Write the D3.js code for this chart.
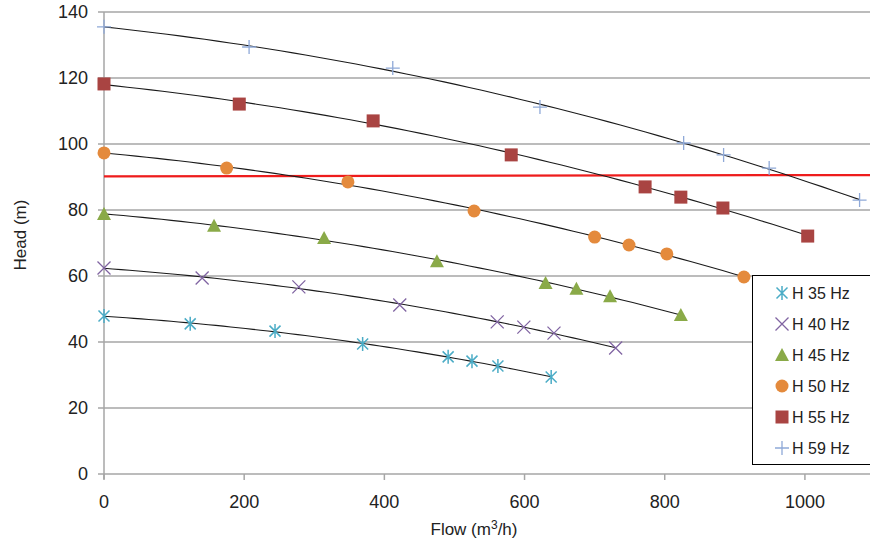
<!DOCTYPE html>
<html>
<head>
<meta charset="utf-8">
<script src="https://cdn.jsdelivr.net/npm/d3@7"></script>
<style>
body{margin:0;background:#fff;}
svg{display:block;font-family:"Liberation Sans",Arial,sans-serif;}
</style>
</head>
<body>
<svg id="chart" width="870" height="547"></svg>
<script>
// series labels
var seriesNames = ['H 35 Hz','H 40 Hz','H 45 Hz','H 50 Hz','H 55 Hz','H 59 Hz'];
// flow values (m3/h) per series
var flow35 = [0,123,244,369,491,525,562,638];
var head35 = [47.9,45.5,43.3,39.4,35.5,34.2,32.7,29.4];
var flow40 = [0,140,278,422,561,599,642,730];
var head40 = [62.4,59.4,56.7,51.2,46.1,44.5,42.7,38.2];
var flow45 = [0,157,314,475,630,674,722,823];
var head45 = [78.8,75.2,71.5,64.5,57.9,56.1,53.9,48.2];
var flow50 = [0,175,348,528,700,749,803,913];
var head50 = [97.3,92.7,88.5,79.7,71.8,69.4,66.7,59.7];
var flow55 = [0,193,384,581,772,823,883,1004];
var head55 = [118.2,112.1,107,96.7,87,83.9,80.6,72.1];
var flow59 = [0,207,412,622,827,884,949,1078];
var head59 = [135.5,129.4,123,111.2,100.3,96.7,92.7,83];
// red reference line
var refFlow = [0,1100];
var refHead = [90.2,90.6];
var xTicks = [0,200,400,600,800,1000];
var yTicks = [0,20,40,60,80,100,120,140];

var seriesFlows = [flow35,flow40,flow45,flow50,flow55,flow59];
var seriesHeads = [head35,head40,head45,head50,head55,head59];
var colors = ['#4bacc6','#8064a2','#8aaa48','#e48a3c','#a94442','#8fa9d8'];
var shapes = ['asterisk','x','triangle','circle','square','plus'];

var svg = d3.select('#chart');
var x = d3.scaleLinear().domain([0,1100]).range([104,875]);
var y = d3.scaleLinear().domain([0,140]).range([474,12]);

// gridlines
svg.append('g').selectAll('line').data(yTicks).enter().append('line')
  .attr('x1',98).attr('x2',870)
  .attr('y1',function(d){return y(d);}).attr('y2',function(d){return y(d);})
  .attr('stroke','#a6a6a6').attr('stroke-width',1.5);
// y axis line
svg.append('line').attr('x1',x(0)).attr('x2',x(0)).attr('y1',y(140)).attr('y2',y(0)+5)
  .attr('stroke','#a6a6a6').attr('stroke-width',1.5);
// x ticks
svg.append('g').selectAll('line').data(xTicks).enter().append('line')
  .attr('x1',function(d){return x(d);}).attr('x2',function(d){return x(d);})
  .attr('y1',y(0)).attr('y2',y(0)+6)
  .attr('stroke','#a6a6a6').attr('stroke-width',1.5);

// tick labels
svg.append('g').selectAll('text').data(yTicks).enter().append('text')
  .attr('x',88).attr('y',function(d){return y(d)+6;})
  .attr('text-anchor','end').attr('font-size',18).attr('fill','#222')
  .text(function(d){return d;});
svg.append('g').selectAll('text').data(xTicks).enter().append('text')
  .attr('x',function(d){return x(d);}).attr('y',508)
  .attr('text-anchor','middle').attr('font-size',18).attr('fill','#222')
  .text(function(d){return d;});

// axis titles
svg.append('text').attr('transform','translate(26,235) rotate(-90)')
  .attr('text-anchor','middle').attr('font-size',17).attr('fill','#222').text('Head (m)');
var xt = svg.append('text').attr('x',474).attr('y',535)
  .attr('text-anchor','middle').attr('font-size',17).attr('fill','#222');
xt.append('tspan').text('Flow (m');
xt.append('tspan').attr('font-size',12).attr('dy',-6).text('3');
xt.append('tspan').attr('dy',6).text('/h)');

// red line
svg.append('line')
  .attr('x1',x(refFlow[0])).attr('y1',y(refHead[0]))
  .attr('x2',x(refFlow[1])).attr('y2',y(refHead[1]))
  .attr('stroke','#ee1c1c').attr('stroke-width',2.2);

// quadratic least squares fit
function polyFit(xs,ys){
  var n=xs.length,s=[0,0,0,0,0],t=[0,0,0];
  for(var i=0;i<n;i++){
    var p=1;
    for(var k=0;k<5;k++){s[k]+=p; if(k<3)t[k]+=p*ys[i]; p*=xs[i];}
  }
  var A=[[s[0],s[1],s[2],t[0]],[s[1],s[2],s[3],t[1]],[s[2],s[3],s[4],t[2]]];
  for(var c=0;c<3;c++){
    for(var r=c+1;r<3;r++){
      var f=A[r][c]/A[c][c];
      for(var j=c;j<4;j++)A[r][j]-=f*A[c][j];
    }
  }
  var b=[0,0,0];
  for(var r2=2;r2>=0;r2--){
    var v=A[r2][3];
    for(var j2=r2+1;j2<3;j2++)v-=A[r2][j2]*b[j2];
    b[r2]=v/A[r2][r2];
  }
  return function(xv){return b[0]+b[1]*xv+b[2]*xv*xv;};
}

var line = d3.line().x(function(d){return x(d[0]);}).y(function(d){return y(d[1]);});
seriesFlows.forEach(function(fl,i){
  var f = polyFit(fl,seriesHeads[i]);
  var xmax = d3.max(fl);
  var pts = d3.range(0,xmax+0.01,xmax/60).map(function(v){return [v,f(v)];});
  svg.append('path').attr('d',line(pts)).attr('fill','none')
    .attr('stroke','#1a1a1a').attr('stroke-width',1.1);
});

function drawMarker(g,shape,color,cx,cy){
  var r=7;
  if(shape==='circle'){
    g.append('circle').attr('cx',cx).attr('cy',cy).attr('r',6.5).attr('fill',color);
  } else if(shape==='square'){
    g.append('rect').attr('x',cx-6.5).attr('y',cy-6.5).attr('width',13).attr('height',13).attr('fill',color);
  } else if(shape==='triangle'){
    g.append('path').attr('d','M'+cx+','+(cy-7)+'L'+(cx+7)+','+(cy+6)+'L'+(cx-7)+','+(cy+6)+'Z').attr('fill',color);
  } else if(shape==='plus'){
    g.append('path').attr('d','M'+(cx-r)+','+cy+'H'+(cx+r)+'M'+cx+','+(cy-r)+'V'+(cy+r))
      .attr('stroke',color).attr('stroke-width',1.3).attr('fill','none');
  } else if(shape==='x'){
    var a=6.5;
    g.append('path').attr('d','M'+(cx-a)+','+(cy-a)+'L'+(cx+a)+','+(cy+a)+'M'+(cx-a)+','+(cy+a)+'L'+(cx+a)+','+(cy-a))
      .attr('stroke',color).attr('stroke-width',1.3).attr('fill','none');
  } else if(shape==='asterisk'){
    var b=5.5;
    g.append('path').attr('d','M'+(cx-b)+','+(cy-b)+'L'+(cx+b)+','+(cy+b)+'M'+(cx-b)+','+(cy+b)+'L'+(cx+b)+','+(cy-b)+'M'+cx+','+(cy-r)+'V'+(cy+r))
      .attr('stroke',color).attr('stroke-width',1.5).attr('fill','none');
  }
}

var markers = svg.append('g');
seriesFlows.forEach(function(fl,i){
  fl.forEach(function(v,j){
    drawMarker(markers,shapes[i],colors[i],x(v),y(seriesHeads[i][j]));
  });
});

// legend
var lg = svg.append('g');
lg.append('rect').attr('x',752.5).attr('y',275.5).attr('width',130).attr('height',189)
  .attr('fill','#fff').attr('stroke','#000').attr('stroke-width',1);
seriesNames.forEach(function(name,i){
  var ly = 293 + i*31;
  drawMarker(lg,shapes[i],colors[i],782,ly);
  lg.append('text').attr('x',792).attr('y',ly+6).attr('font-size',16).attr('fill','#222').text(name);
});
</script>
</body>
</html>
